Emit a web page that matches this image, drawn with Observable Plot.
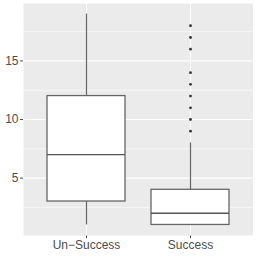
<!DOCTYPE html>
<html><head><meta charset="utf-8">
<script src="https://cdn.jsdelivr.net/npm/d3@7"></script>
<script src="https://cdn.jsdelivr.net/npm/@observablehq/plot@0.6"></script>
<style>html,body{margin:0;padding:0;background:#fff}</style>
</head><body><div id="chart"></div>
<script>
const categories = ["Un−Success", "Success"];
const whiskerLow = [1, 1];
const q1 = [3, 1];
const median = [7, 2];
const q3 = [12, 4];
const whiskerHigh = [19, 8];
const outlierGroup = ["Success","Success","Success","Success","Success","Success","Success","Success","Success"];
const outlierValue = [9, 10, 11, 12, 13, 14, 16, 17, 18];
const majorTicks = [5, 10, 15];
const minorTicks = [2.5, 7.5, 12.5, 17.5];

const boxes = categories.map((c, i) => ({cat: c, lo: whiskerLow[i], q1: q1[i], med: median[i], q3: q3[i], hi: whiskerHigh[i]}));
const outliers = outlierValue.map((v, i) => ({cat: outlierGroup[i], v}));

const chart = Plot.plot({
  width: 256, height: 256,
  marginLeft: 23, marginRight: 3.5, marginTop: 3, marginBottom: 21,
  style: {fontFamily: "'Liberation Sans', Arial, sans-serif", fontSize: "12px", color: "#4D4D4D", background: "#fff"},
  x: {type: "band", domain: categories, paddingInner: 0.25, paddingOuter: 0.225, tickSize: 3, tickPadding: 2, label: null},
  y: {domain: [0.1, 19.9], ticks: majorTicks, tickSize: 3, tickPadding: 2, label: null},
  marks: [
    Plot.frame({fill: "#EBEBEB", stroke: null}),
    Plot.ruleY(minorTicks, {stroke: "white", strokeWidth: 0.55}),
    Plot.ruleY(majorTicks, {stroke: "white", strokeWidth: 1.1}),
    Plot.ruleX(categories, {stroke: "white", strokeWidth: 1.1}),
    Plot.ruleX(boxes, {x: "cat", y1: "lo", y2: "q1", stroke: "#666", strokeWidth: 1.2}),
    Plot.ruleX(boxes, {x: "cat", y1: "q3", y2: "hi", stroke: "#666", strokeWidth: 1.2}),
    Plot.barY(boxes, {x: "cat", y1: "q1", y2: "q3", fill: "white", stroke: "#666", strokeWidth: 1.3}),
    Plot.tickY(boxes, {x: "cat", y: "med", stroke: "#555", strokeWidth: 1.3}),
    Plot.dot(outliers, {x: "cat", y: "v", r: 1.4, fill: "#333", stroke: null})
  ]
});
document.getElementById("chart").appendChild(chart);
</script></body></html>
